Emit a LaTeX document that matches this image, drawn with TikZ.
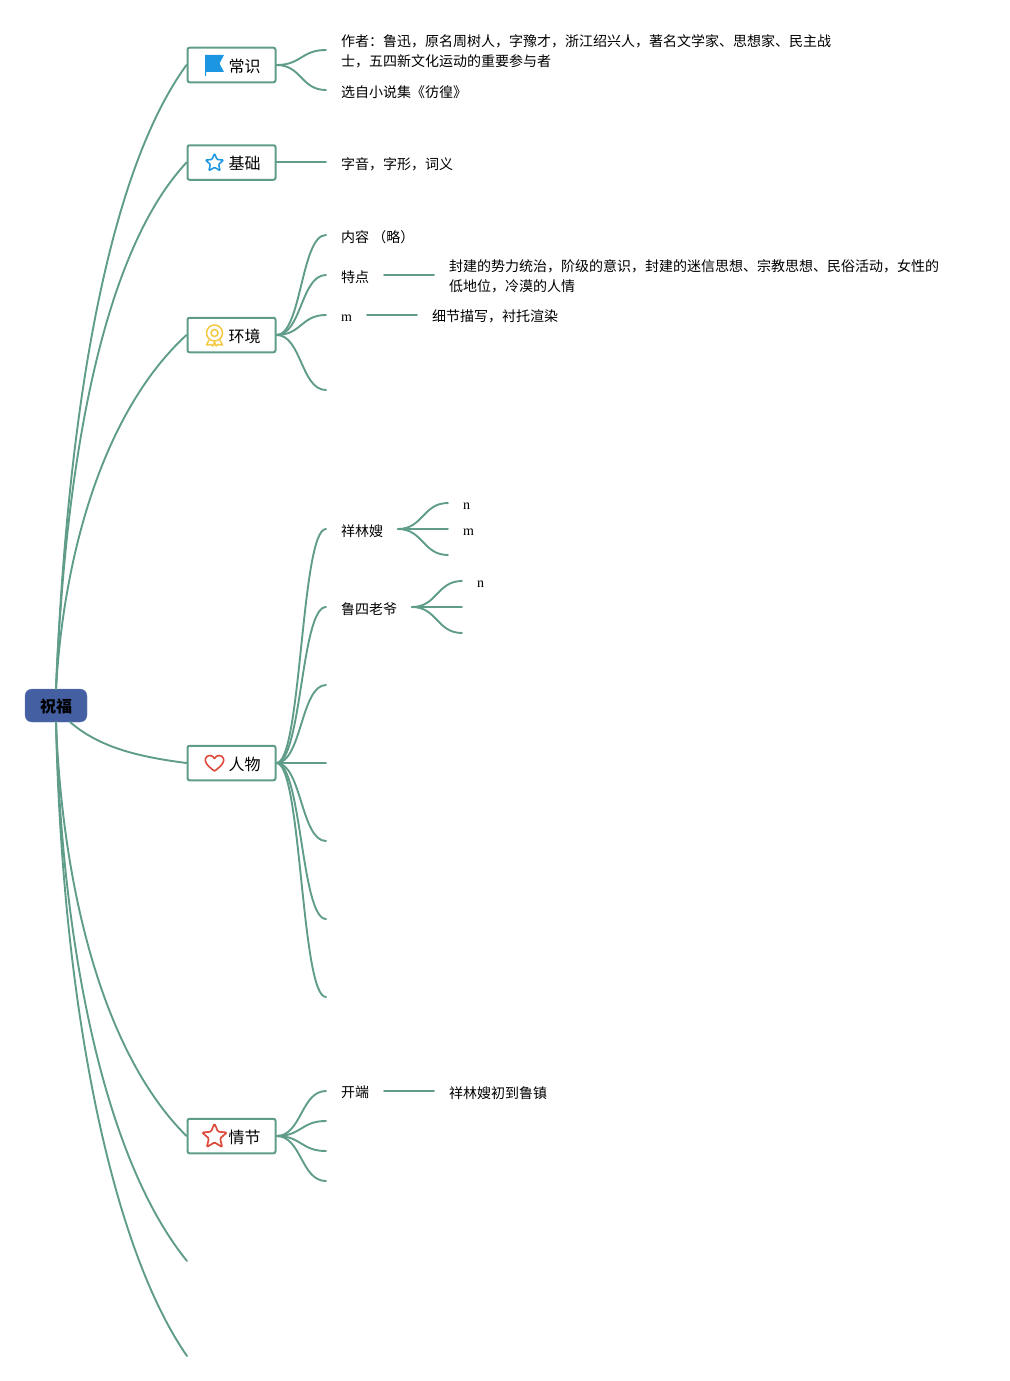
\documentclass[tikz,border=0pt]{standalone}
\usepackage{fontspec}
\setmainfont{Noto Sans CJK SC}[Scale=1]
\newfontfamily\latinserif{Liberation Serif}
\usetikzlibrary{calc,shapes.geometric}
\definecolor{linkgreen}{HTML}{5F9C8A}
\definecolor{rootblue}{HTML}{4460A3}
\definecolor{iconblue}{HTML}{1C96E0}
\definecolor{iconred}{HTML}{DD4B3C}
\definecolor{iconyellow}{HTML}{F5C842}
\tikzset{
  x=1pt,y=-1pt,
  link/.style={draw=linkgreen,line width=1.9pt,line cap=round},
  rootbox/.style={fill=rootblue,draw=rootblue!85!white,rounded corners=7pt,minimum width=62pt,minimum height=33pt,inner sep=0pt,text height=16pt,text depth=2pt,font=\fontsize{16}{20}\selectfont\bfseries},
  topic/.style={draw=linkgreen,line width=2pt,fill=white,rounded corners=2pt,minimum height=34.5pt,inner xsep=15pt,inner ysep=0pt,text width=58pt,text height=16pt,text depth=2pt,align=right,font=\fontsize{16}{20}\selectfont,anchor=west},
  leaf/.style={inner xsep=15pt,inner ysep=0pt,anchor=west,align=left,yshift=-0.2pt,font=\fontsize{14}{20}\selectfont},
  latin/.style={leaf,font=\fontsize{14}{20}\selectfont\latinserif},
  starblue/.style={star,star points=5,star point ratio=2.2,draw=iconblue,line width=1.5pt,rounded corners=1pt,inner sep=0pt,minimum size=19pt},
  starred/.style={star,star points=5,star point ratio=2.2,draw=iconred,line width=1.7pt,rounded corners=1.2pt,inner sep=0pt,minimum size=26pt},
}
\newcommand{\branch}[2]{\draw[link] (#1) .. controls ($(#1)+(25,0)$) and ($(#2)+(-25,0)$) .. (#2);}
\newcommand{\rootlink}[4]{\draw[link] (#1) .. controls #3 and #4 .. (#2);}
\begin{document}
\begin{tikzpicture}
\useasboundingbox (0,0) rectangle (1009,1381);
% root
\node[rootbox] (root) at (56,705.5) {祝福};
% topics
\node[topic] (t1) at (186.5,65) {常识};
\node[topic] (t2) at (186.5,162.5) {基础};
\node[topic] (t3) at (186.5,335) {环境};
\node[topic] (t4) at (186.5,763) {人物};
\node[topic] (t5) at (186.5,1136) {情节};
\coordinate (t6) at (187,1261);
\coordinate (t7) at (187,1356);
% root connectors
\rootlink{root.north}{t1.west}{(68,400)}{(110,170)}
\rootlink{root.north}{t2.west}{(66,450)}{(105,250)}
\rootlink{root.north}{t3.west}{(64,550)}{(105,410)}
\draw[link] (70,722) .. controls (100,748) and (140,757) .. (t4.west);
\rootlink{root.south}{t5.west}{(62,880)}{(100,1050)}
\rootlink{root.south}{t6}{(62,950)}{(105,1160)}
\rootlink{root.south}{t7}{(62,1000)}{(110,1245)}
% icons
\fill[iconblue] (205,55) -- (224,55) -- (219.5,63.5) -- (224,72) -- (206,72) -- (206,76) -- (205,76) -- cycle;
\node[starblue] (s2) at (214.5,163) {};
\draw[iconyellow,line width=1.5pt] (214.5,333) circle (8);
\draw[iconyellow,line width=1.5pt] (214.5,333) circle (3.5);
\draw[iconyellow,line width=1.5pt,line join=round] (209,340) -- (206.5,345) -- (211,344.5) -- (213,346) -- (214.5,342) -- (216,346) -- (218,344.5) -- (222.5,345) -- (220,340);
\draw[iconred,line width=1.6pt,line join=round] (214.5,771) .. controls (206,765) and (204.5,761) .. (205.5,758.5) .. controls (207,754.5) and (212.5,754.5) .. (214.5,758.5) .. controls (216.5,754.5) and (222,754.5) .. (223.5,758.5) .. controls (224.5,761) and (223,765) .. (214.5,771) -- cycle;
\node[starred] (s5) at (214.5,1136.5) {};
% leaves of t1
\node[leaf] (a1) at (326,51.5) {作者：鲁迅，原名周树人，字豫才，浙江绍兴人，著名文学家、思想家、民主战\\士，五四新文化运动的重要参与者};
\node[leaf] (a2) at (326,91.5) {选自小说集《彷徨》};
\coordinate (a1c) at (326,50);
\branch{t1.east}{a1c}
\coordinate (a2c) at (326,90);
\branch{t1.east}{a2c}
% t2
\node[leaf] (b1) at (326,164.5) {字音，字形，词义};
\coordinate (b1c) at (326,162);
\coordinate (b1o) at (276,162);
\draw[link] (b1o) -- (b1c);
% t3
\node[leaf] (c1) at (326,236.5) {内容\ （略）};
\node[leaf] (c2) at (326,276.5) {特点};
\node[leaf] (c2d) at (434,276.5) {封建的势力统治，阶级的意识，封建的迷信思想、宗教思想、民俗活动，女性的\\低地位，冷漠的人情};
\node[latin] (c3) at (326,317.5) {m};
\node[leaf] (c3d) at (417,316.5) {细节描写，衬托渲染};
\coordinate (c1c) at (326,235);
\coordinate (c2c) at (326,275);
\coordinate (c3c) at (326,315);
\coordinate (c4c) at (326,390);
\branch{t3.east}{c1c}
\branch{t3.east}{c2c}
\branch{t3.east}{c3c}
\branch{t3.east}{c4c}
\draw[link] (384,275) -- (434,275);
\draw[link] (367,315) -- (417,315);
% t4
\node[leaf] (d1) at (326,530.5) {祥林嫂};
\node[leaf] (d2) at (326,608.5) {鲁四老爷};
\coordinate (d1c) at (326,529);
\coordinate (d2c) at (326,607);
\coordinate (d3c) at (326,685);
\coordinate (d4c) at (326,763);
\coordinate (d5c) at (326,841);
\coordinate (d6c) at (326,919);
\coordinate (d7c) at (326,997);
\foreach \n in {d1c,d2c,d3c,d5c,d6c,d7c}{\branch{t4.east}{\n}}
\draw[link] (t4.east) -- (d4c);
\node[latin] (e1) at (448,506) {n};
\node[latin] (e2) at (448,532) {m};
\coordinate (e1c) at (448,503);
\coordinate (e2c) at (448,529);
\coordinate (e3c) at (448,555);
\coordinate (d1o) at (398,529);
\branch{d1o}{e1c}
\draw[link] (d1o) -- (e2c);
\branch{d1o}{e3c}
\node[latin] (f1) at (462,584) {n};
\coordinate (f1c) at (462,581);
\coordinate (f2c) at (462,607);
\coordinate (f3c) at (462,633);
\coordinate (d2o) at (412,607);
\branch{d2o}{f1c}
\draw[link] (d2o) -- (f2c);
\branch{d2o}{f3c}
% t5
\node[leaf] (g1) at (326,1092.5) {开端};
\node[leaf] (g1d) at (434,1092.5) {祥林嫂初到鲁镇};
\coordinate (g1c) at (326,1091);
\coordinate (g2c) at (326,1121);
\coordinate (g3c) at (326,1151);
\coordinate (g4c) at (326,1181);
\foreach \n in {g1c,g2c,g3c,g4c}{\branch{t5.east}{\n}}
\draw[link] (384,1091) -- (434,1091);
\end{tikzpicture}
\end{document}
